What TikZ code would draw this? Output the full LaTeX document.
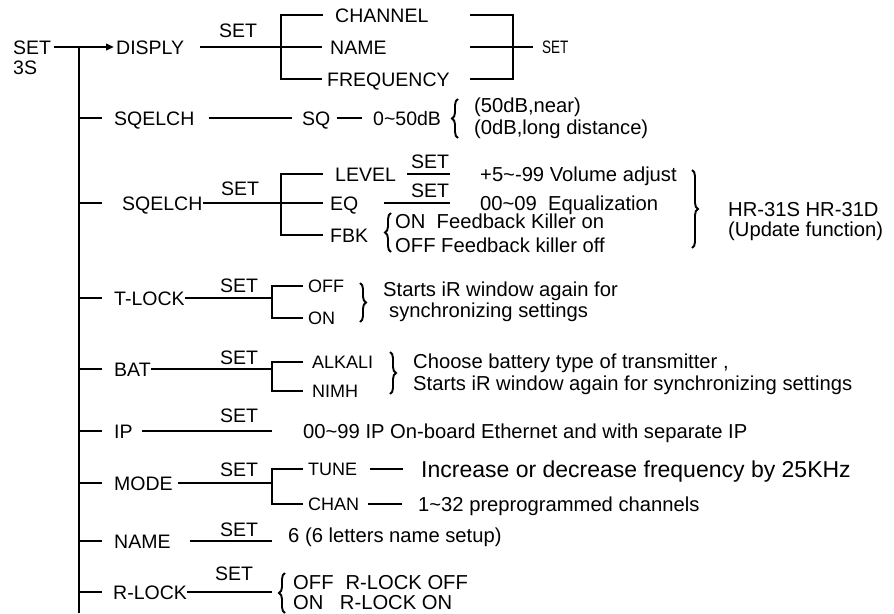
\documentclass[tikz,border=0pt]{standalone}
\usepackage{fontspec}
\setmainfont{Liberation Sans}
\newfontfamily\condfont[FakeStretch=0.75]{Liberation Sans}
\usetikzlibrary{arrows.meta,decorations.pathreplacing}
\begin{document}
\begin{tikzpicture}[x=1pt,y=-1pt,
  txt/.style={anchor=west,inner sep=0pt,font=\fontsize{19.5}{22}\selectfont,text height=14pt,text depth=0pt},
  desc/.style={anchor=west,inner sep=0pt,font=\fontsize{20.2}{22}\selectfont,text height=14.5pt,text depth=0pt},
  opt/.style={anchor=west,inner sep=0pt,font=\fontsize{18}{20}\selectfont,text height=12.9pt,text depth=0pt},
  bigt/.style={anchor=west,inner sep=0pt,font=\fontsize{23}{26}\selectfont,text height=16.5pt,text depth=0pt},
  lbl/.style={inner sep=0pt,font=\fontsize{19.5}{22}\selectfont,text height=14pt,text depth=0pt},
  cset/.style={anchor=west,inner sep=0pt,font=\condfont\fontsize{18}{20}\selectfont,text height=13pt,text depth=0pt},
  ln/.style={line width=2.8pt},
  br/.style={line width=1.9pt,decorate,decoration={brace,amplitude=6pt}},
]
\useasboundingbox (0,0) rectangle (894,613);

% root and main spine
\node[txt] (set) at (13,47) {SET};
\node[txt] (s3) at (13,67) {3S};
\node[txt] (disp) at (116,47) {DISPLY};
\coordinate (top) at (79,47);
\coordinate (bot) at (79,613);
\draw[ln] (top) -- (bot);
\draw[ln,-{Triangle[length=8pt,width=6.5pt]}] ([xshift=3pt]set.east) -- ([xshift=-2pt]disp.west);

% DISPLY branch
\node[txt] (chan) at (335,15) {CHANNEL};
\node[txt] (dname) at (330,47) {NAME};
\node[txt] (freq) at (327,79) {FREQUENCY};
\coordinate (dbt) at (281,15);
\coordinate (dbb) at (281,79);
\draw[ln] ([xshift=16pt]disp.east) -- ([xshift=-8pt]dname.west);
\draw[ln] ([xshift=-12pt]chan.west) -- (dbt) -- (dbb) -- ([xshift=-5pt]freq.west);
\node[lbl] (dset) at (238,30) {SET};
\coordinate (rt1) at (470,15);
\coordinate (rt2) at (470,47);
\coordinate (rt3) at (470,79);
\coordinate (rbt) at (513,15);
\coordinate (rbb) at (513,79);
\node[cset] (rset) at (542,47) {SET};
\draw[ln] (rt1) -- (rbt) -- (rbb) -- (rt3);
\draw[ln] (rt2) -- ([xshift=-9pt]rset.west);

% SQELCH (SQ)
\node[txt] (sqa) at (114,118) {SQELCH};
\node[txt] (sq) at (302,118) {SQ};
\node[txt] (db) at (373,118) {0\textasciitilde 50dB};
\draw[ln] (top |- sqa.west) -- +(23,0);
\draw[ln] ([xshift=14pt]sqa.east) -- ([xshift=-10pt]sq.west);
\draw[ln] ([xshift=6pt]sq.east) -- ([xshift=-11pt]db.west);
\draw[br] (458,138) -- (458,99);
\node[desc] (near) at (474,105) {(50dB,near)};
\node[desc] (far) at (474,127) {(0dB,long distance)};

% SQELCH (SET)
\node[txt] (sqb) at (122,203) {SQELCH};
\draw[ln] (top |- sqb.west) -- +(23,0);
\node[lbl] (sset) at (240,188) {SET};
\node[txt] (lev) at (335,174) {LEVEL};
\node[txt] (eq) at (330,203) {EQ};
\node[txt] (fbk) at (330,235) {FBK};
\coordinate (b2t) at (281,174);
\coordinate (b2b) at (281,235);
\draw[ln] (sqb.east) -- ([xshift=-7pt]eq.west);
\draw[ln] ([xshift=-12pt]lev.west) -- (b2t) -- (b2b) -- ([xshift=-7pt]fbk.west);
\node[desc] (vol) at (480,174) {+5\textasciitilde -99 Volume adjust};
\node[desc] (eqz) at (480,203) {00\textasciitilde 09\ \ Equalization};
\coordinate (vl) at (450,174);
\coordinate (el) at (450,203);
\draw[ln] ([xshift=11pt]lev.east) -- (vl);
\node[lbl] (lset) at (430,161) {SET};
\draw[ln] ([xshift=25pt]eq.east) -- (el);
\node[lbl] (eset) at (430,190) {SET};
\draw[br] (391,252) -- (391,213);
\node[desc] (fon) at (395,221) {ON\ \ Feedback Killer on};
\node[desc] (foff) at (395,245) {OFF Feedback killer off};
\draw[br] (692,170) -- (692,248);
\node[desc] (hr) at (728,209) {HR-31S HR-31D};
\node[desc] (upd) at (728,229) {(Update function)};

% T-LOCK
\node[txt] (tl) at (114,298) {T-LOCK};
\draw[ln] (top |- tl.west) -- +(23,0);
\node[lbl] (tset) at (239,285) {SET};
\node[opt] (off1) at (308,286) {OFF};
\node[opt] (on1) at (308,318) {ON};
\coordinate (b3t) at (272,286);
\coordinate (b3b) at (272,318);
\draw[ln] (tl.east) -- (b3t |- tl.west);
\draw[ln] ([xshift=-5pt]off1.west) -- (b3t) -- (b3b) -- ([xshift=-5pt]on1.west);
\draw[br] (360,283) -- (360,322);
\node[desc] (st1) at (383,289) {Starts iR window again for};
\node[desc] (st2) at (389,310) {synchronizing settings};

% BAT
\node[txt] (bat) at (114,369) {BAT};
\draw[ln] (top |- bat.west) -- +(23,0);
\node[lbl] (bset) at (239,357) {SET};
\node[opt] (alk) at (312,362) {ALKALI};
\node[opt] (nimh) at (312,391) {NIMH};
\coordinate (b4t) at (272,362);
\coordinate (b4b) at (272,391);
\draw[ln] (bat.east) -- (b4t |- bat.west);
\draw[ln] ([xshift=-9pt]alk.west) -- (b4t) -- (b4b) -- ([xshift=-9pt]nimh.west);
\draw[br] (390,352) -- (390,394);
\node[desc] (ch1) at (413,361) {Choose battery type of transmitter ,};
\node[desc] (ch2) at (413,383) {Starts iR window again for synchronizing settings};

% IP
\node[txt] (ip) at (114,431) {IP};
\draw[ln] (top |- ip.west) -- +(23,0);
\node[lbl] (iset) at (239,415) {SET};
\node[desc] (ipt) at (303,431) {00\textasciitilde 99 IP On-board Ethernet and with separate IP};
\coordinate (ipe) at (272,431);
\draw[ln] ([xshift=9pt]ip.east) -- (ipe);

% MODE
\node[txt] (mode) at (114,483) {MODE};
\draw[ln] (top |- mode.west) -- +(23,0);
\node[lbl] (mset) at (239,469) {SET};
\node[opt] (tune) at (308,469) {TUNE};
\node[opt] (chn) at (308,504) {CHAN};
\coordinate (b5t) at (272,469);
\coordinate (b5b) at (272,504);
\draw[ln] ([xshift=5pt]mode.east) -- (b5t |- mode.west);
\draw[ln] ([xshift=-5pt]tune.west) -- (b5t) -- (b5b) -- ([xshift=-5pt]chn.west);
\node[bigt] (inc) at (421,469) {Increase or decrease frequency by 25KHz};
\node[desc] (ch32) at (418,504) {1\textasciitilde 32 preprogrammed channels};
\draw[ln] ([xshift=13pt]tune.east) -- ([xshift=-18pt]inc.west);
\draw[ln] ([xshift=9pt]chn.east) -- ([xshift=-16pt]ch32.west);

% NAME
\node[txt] (nm) at (114,541) {NAME};
\draw[ln] (top |- nm.west) -- +(23,0);
\node[lbl] (nset) at (239,529) {SET};
\node[desc] (six) at (288,535) {6 (6 letters name setup)};
\coordinate (nme) at (272,541);
\draw[ln] ([xshift=19pt]nm.east) -- (nme);

% R-LOCK
\node[txt] (rl) at (113,592) {R-LOCK};
\draw[ln] (top |- rl.west) -- +(23,0);
\node[lbl] (rset2) at (234,573) {SET};
\coordinate (rle) at (272,592);
\draw[ln] (rl.east) -- (rle);
\draw[br] (285,613) -- (285,573);
\node[desc] (roff) at (293,582) {OFF\hspace{12pt}R-LOCK OFF};
\node[desc] (ron) at (293,602) {ON\hspace{16.5pt}R-LOCK ON};
\end{tikzpicture}
\end{document}
